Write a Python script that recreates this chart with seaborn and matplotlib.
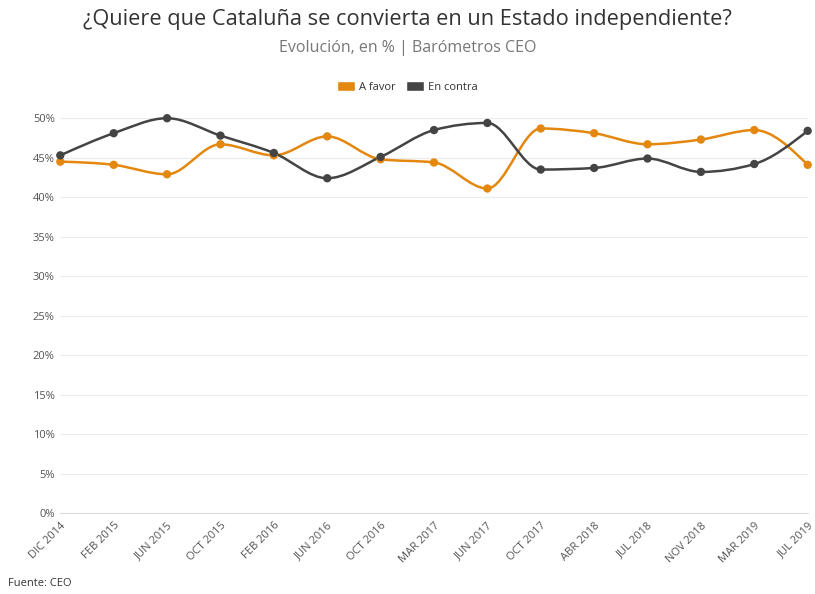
import matplotlib
matplotlib.use("Agg")
import matplotlib.pyplot as plt
import numpy as np
import pandas as pd
import seaborn as sns
from matplotlib.patches import Patch, PathPatch
from matplotlib.path import Path

fechas = ["DIC 2014", "FEB 2015", "JUN 2015", "OCT 2015", "FEB 2016", "JUN 2016",
          "OCT 2016", "MAR 2017", "JUN 2017", "OCT 2017", "ABR 2018", "JUL 2018",
          "NOV 2018", "MAR 2019", "JUL 2019"]
a_favor = [44.5, 44.1, 42.9, 46.7, 45.3, 47.7, 44.8, 44.4, 41.1, 48.7, 48.1, 46.7, 47.3, 48.5, 44.1]
en_contra = [45.3, 48.1, 50.0, 47.8, 45.6, 42.4, 45.1, 48.5, 49.4, 43.5, 43.7, 44.9, 43.2, 44.2, 48.4]
y_ticks = [0, 5, 10, 15, 20, 25, 30, 35, 40, 45, 50]

naranja = "#e3870e"
gris = "#444444"


def monotone_path(x, y):
    # curva monotona (como curveMonotoneX) construida con segmentos bezier
    x = np.asarray(x, float)
    y = np.asarray(y, float)
    h = np.diff(x)
    s = np.diff(y) / h
    t = np.zeros(len(x))
    for i in range(1, len(x) - 1):
        p = (s[i - 1] * h[i] + s[i] * h[i - 1]) / (h[i - 1] + h[i])
        t[i] = (np.sign(s[i - 1]) + np.sign(s[i])) * min(abs(s[i - 1]), abs(s[i]), 0.5 * abs(p))
    t[0] = (3 * s[0] - t[1]) / 2
    t[-1] = (3 * s[-1] - t[-2]) / 2
    verts = [(x[0], y[0])]
    codes = [Path.MOVETO]
    for i in range(len(x) - 1):
        dx = h[i] / 3
        verts += [(x[i] + dx, y[i] + dx * t[i]), (x[i + 1] - dx, y[i + 1] - dx * t[i + 1]), (x[i + 1], y[i + 1])]
        codes += [Path.CURVE4] * 3
    return Path(verts, codes)


df = pd.DataFrame({
    "fecha": fechas * 2,
    "pos": list(range(len(fechas))) * 2,
    "valor": a_favor + en_contra,
    "serie": ["A favor"] * len(fechas) + ["En contra"] * len(fechas),
})

sns.set_style("white")
plt.rcParams["font.family"] = ["Open Sans", "DejaVu Sans"]

fig = plt.figure(figsize=(8.15, 5.94), dpi=100)
ax = fig.add_axes([0.074, 0.136, 0.917, 0.665])

for serie, color in [("A favor", naranja), ("En contra", gris)]:
    sub = df[df["serie"] == serie]
    ax.add_patch(PathPatch(monotone_path(sub["pos"], sub["valor"]), facecolor="none",
                           edgecolor=color, linewidth=1.8, zorder=3, clip_on=False))

sns.scatterplot(data=df, x="pos", y="valor", hue="serie", palette={"A favor": naranja, "En contra": gris},
                s=36, linewidth=0, legend=False, ax=ax, clip_on=False, zorder=4)

ax.set_xlim(0, len(fechas) - 1)
ax.set_ylim(0, 50)
ax.set_yticks(y_ticks)
ax.set_yticklabels([f"{v}%" for v in y_ticks], fontsize=8, color="#555555")
ax.set_xticks(range(len(fechas)))
ax.set_xticklabels(fechas, rotation=45, ha="right", rotation_mode="anchor", fontsize=8, color="#555555")
ax.tick_params(axis="y", length=0, pad=4)
ax.tick_params(axis="x", length=3, color="#dddddd", pad=2)
ax.grid(axis="y", color="#ebebeb", linewidth=0.8)
ax.set_xlabel("")
ax.set_ylabel("")
for s in ["top", "right", "left"]:
    ax.spines[s].set_visible(False)
ax.spines["bottom"].set_color("#dddddd")
ax.spines["bottom"].set_linewidth(0.8)

fig.text(0.5, 0.968, "¿Quiere que Cataluña se convierta en un Estado independiente?",
         ha="center", va="center", fontsize=15.7, color="#333333")
fig.text(0.5, 0.919, "Evolución, en % | Barómetros CEO",
         ha="center", va="center", fontsize=11.5, color="#777777")
handles = [Patch(facecolor=naranja, label="A favor"), Patch(facecolor=gris, label="En contra")]
fig.legend(handles=handles, loc="center", bbox_to_anchor=(0.5, 0.854), ncol=2, frameon=False,
           fontsize=8, handlelength=1.6, handleheight=1.0, handletextpad=0.4, columnspacing=0.9,
           labelcolor="#333333")
fig.text(0.01, 0.018, "Fuente: CEO", ha="left", va="center", fontsize=8, color="#333333")

fig.savefig("out.png", dpi=100)
